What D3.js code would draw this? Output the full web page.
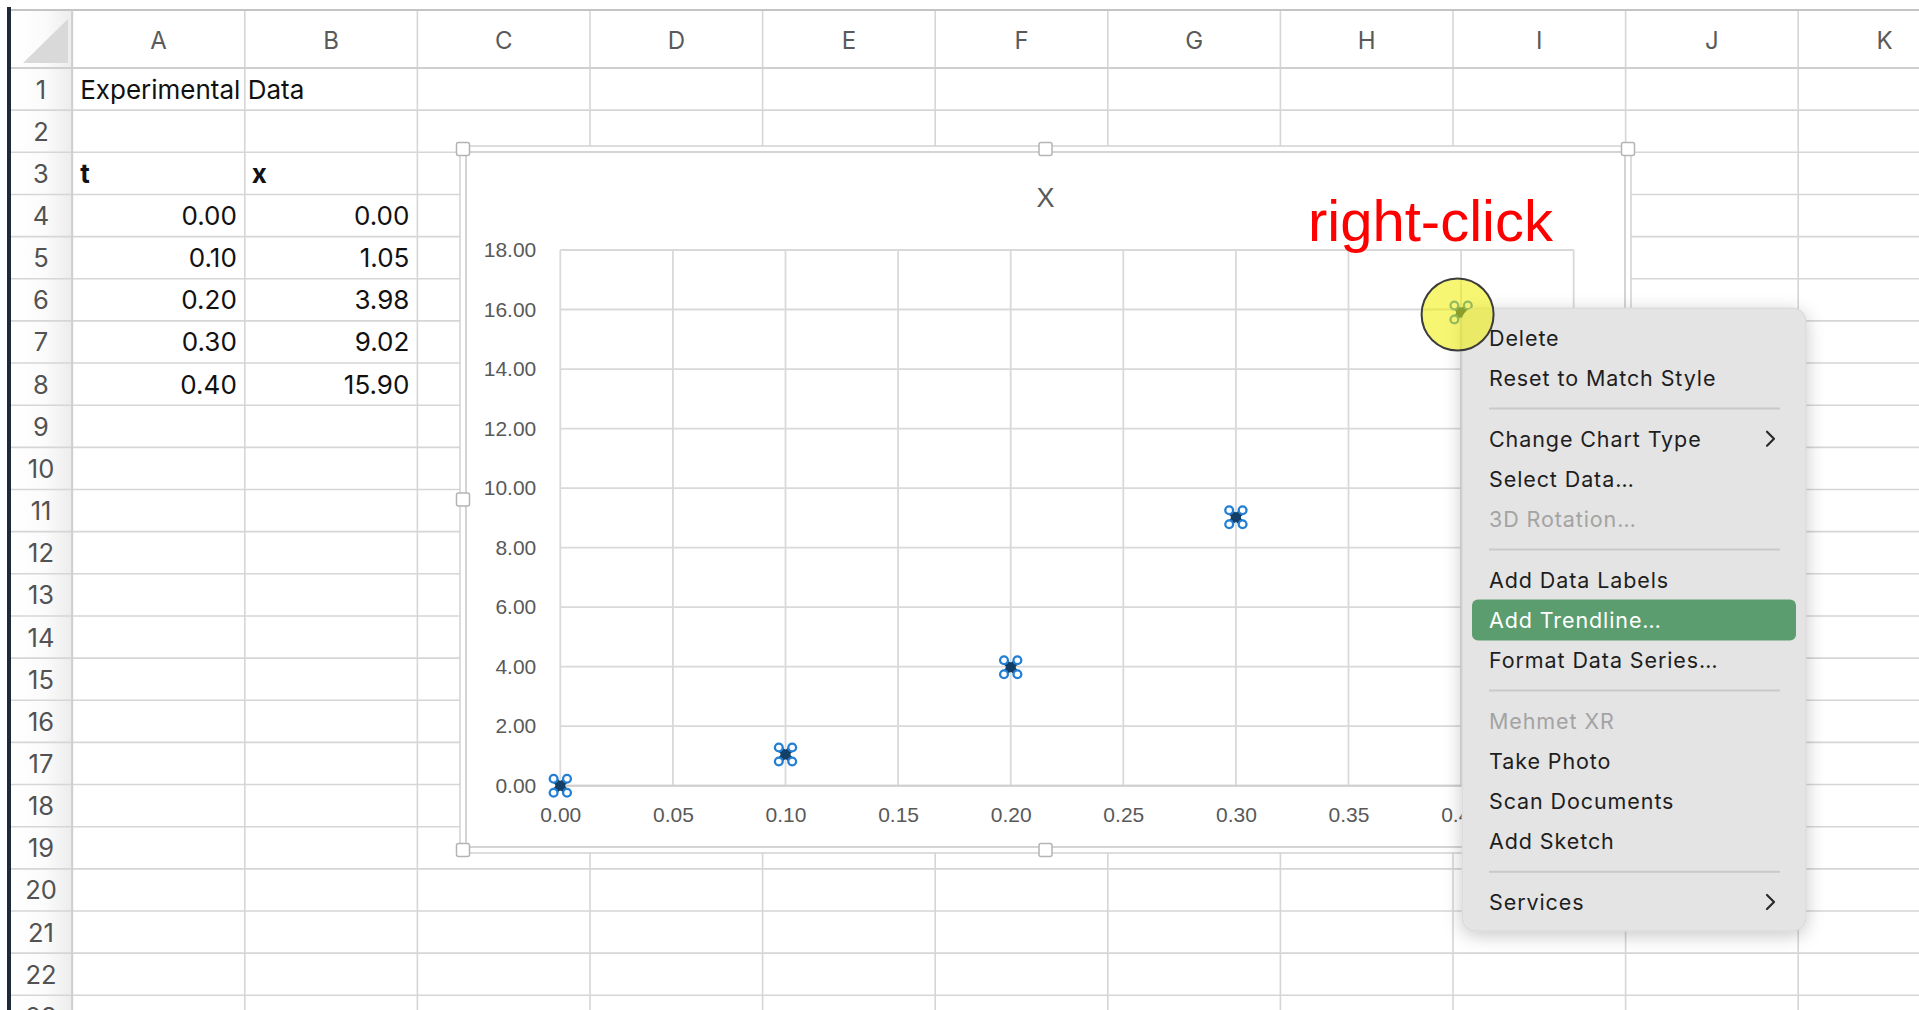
<!DOCTYPE html>
<html>
<head>
<meta charset="utf-8">
<script src="https://cdn.jsdelivr.net/npm/d3@7"></script>
<style>
  html, body { margin: 0; padding: 0; background: #ffffff; overflow: hidden; }
  svg { display: block; }
</style>
</head>
<body>
<svg id="view" width="1919" height="1010"></svg>
<script>
// ---- worksheet contents ----
const sheetTitle = "Experimental Data";
const tHeader = "t";
const xHeader = "x";
const tValues = [0.00, 0.10, 0.20, 0.30, 0.40];
const xValues = [0.00, 1.05, 3.98, 9.02, 15.90];
const columnLetters = ["A", "B", "C", "D", "E", "F", "G", "H", "I", "J", "K"];
const rowNumbers = [1, 2, 3, 4, 5, 6, 7, 8, 9, 10, 11, 12, 13, 14, 15, 16, 17, 18, 19, 20, 21, 22, 23];

// ---- chart ----
const chartTitle = "X";
const xTickValues = [0.00, 0.05, 0.10, 0.15, 0.20, 0.25, 0.30, 0.35, 0.40, 0.45];
const yTickValues = [0, 2, 4, 6, 8, 10, 12, 14, 16, 18];
const clickedIndex = 4;
const calloutText = "right-click";

// ---- context menu ----
const menuGroups = [
  ["Delete", "Reset to Match Style"],
  ["Change Chart Type", "Select Data…", "3D Rotation…"],
  ["Add Data Labels", "Add Trendline…", "Format Data Series…"],
  ["Mehmet XR", "Take Photo", "Scan Documents", "Add Sketch"],
  ["Services"]
];
const disabledItems = ["3D Rotation…", "Mehmet XR"];
const submenuItems = ["Change Chart Type", "Services"];
const activeItem = "Add Trendline…";

const svg = d3.select("#view");
const W = 1919, H = 1010;

const defs = svg.append("defs");
const rowGrad = defs.append("linearGradient").attr("id", "rowHeadGrad")
  .attr("x1", "0").attr("x2", "1").attr("y1", "0").attr("y2", "0");
rowGrad.append("stop").attr("offset", "0").attr("stop-color", "#ffffff");
rowGrad.append("stop").attr("offset", "0.55").attr("stop-color", "#fbfbfb");
rowGrad.append("stop").attr("offset", "1").attr("stop-color", "#ececec");

const shadow = defs.append("filter").attr("id", "menuShadow")
  .attr("x", "-20%").attr("y", "-20%").attr("width", "140%").attr("height", "140%");
shadow.append("feDropShadow").attr("dx", 0).attr("dy", 4)
  .attr("stdDeviation", 9).attr("flood-color", "#000").attr("flood-opacity", 0.22);

// ---- worksheet grid ----
const sheetLeft = 72.2, colW = 172.6;
const headTop = 10, headBottom = 68, rowH = 42.15, rowHeadLeft = 11;
const colEdge = i => sheetLeft + i * colW;
const rowTop = r => headBottom + (r - 1) * rowH;
const gridColor = "#d6d6d6";

const sheet = svg.append("g");
sheet.append("rect").attr("x", 0).attr("y", 0).attr("width", W).attr("height", H).attr("fill", "#ffffff");
// row header strip
sheet.append("rect").attr("x", rowHeadLeft).attr("y", headTop)
  .attr("width", sheetLeft - rowHeadLeft).attr("height", H - headTop).attr("fill", "url(#rowHeadGrad)");

// horizontal grid lines
sheet.selectAll("line.hrow").data(rowNumbers).join("line").attr("class", "hrow")
  .attr("x1", rowHeadLeft).attr("x2", W)
  .attr("y1", r => rowTop(r) + rowH).attr("y2", r => rowTop(r) + rowH)
  .attr("stroke", gridColor).attr("stroke-width", 1.6);
// vertical grid lines
sheet.selectAll("line.vcol").data(d3.range(columnLetters.length + 1)).join("line").attr("class", "vcol")
  .attr("x1", i => colEdge(i)).attr("x2", i => colEdge(i))
  .attr("y1", headTop).attr("y2", H)
  .attr("stroke", gridColor).attr("stroke-width", 1.6);
// header borders
sheet.append("line").attr("x1", rowHeadLeft).attr("x2", W).attr("y1", headTop).attr("y2", headTop)
  .attr("stroke", "#c4c4c4").attr("stroke-width", 2);
sheet.append("line").attr("x1", rowHeadLeft).attr("x2", W).attr("y1", headBottom).attr("y2", headBottom)
  .attr("stroke", "#cfcfcf").attr("stroke-width", 2);
sheet.append("line").attr("x1", sheetLeft).attr("x2", sheetLeft).attr("y1", headTop).attr("y2", H)
  .attr("stroke", "#cfcfcf").attr("stroke-width", 2);
// select-all corner
sheet.append("path").attr("d", "M23,63 L68,63 L68,19 Z").attr("fill", "#d9d9d9");
// window edge
sheet.append("rect").attr("x", 7).attr("y", 7).attr("width", 4).attr("height", H).attr("fill", "#1d2b38");

// header labels
const sheetFont = "Inter, 'Noto Sans', sans-serif";
sheet.selectAll("text.colhead").data(columnLetters).join("text").attr("class", "colhead")
  .attr("x", (d, i) => colEdge(i) + colW / 2).attr("y", 48.5)
  .attr("text-anchor", "middle").attr("font-family", sheetFont).attr("font-size", 24)
  .attr("fill", "#5a5a5a").text(d => d);
sheet.selectAll("text.rowhead").data(rowNumbers).join("text").attr("class", "rowhead")
  .attr("x", 41).attr("y", r => rowTop(r) + rowH / 2 + 9.5)
  .attr("text-anchor", "middle").attr("font-family", sheetFont).attr("font-size", 25.5)
  .attr("fill", "#525252").text(d => d);

// cell contents
const fmt2 = d3.format(".2f");
const cellBase = r => rowTop(r) + rowH / 2 + 9.5;
sheet.append("text").attr("x", colEdge(0) + 8).attr("y", cellBase(1))
  .attr("font-family", sheetFont).attr("font-size", 26).attr("fill", "#111").text(sheetTitle);
sheet.append("text").attr("x", colEdge(0) + 8).attr("y", cellBase(3))
  .attr("font-family", sheetFont).attr("font-size", 26).attr("font-weight", 700).attr("fill", "#111").text(tHeader);
sheet.append("text").attr("x", colEdge(1) + 7).attr("y", cellBase(3))
  .attr("font-family", sheetFont).attr("font-size", 26).attr("font-weight", 700).attr("fill", "#111").text(xHeader);
sheet.selectAll("text.tval").data(tValues).join("text").attr("class", "tval")
  .attr("x", colEdge(1) - 8).attr("y", (d, i) => cellBase(4 + i))
  .attr("text-anchor", "end").attr("font-family", sheetFont).attr("font-size", 26).attr("fill", "#111")
  .text(d => fmt2(d));
sheet.selectAll("text.xval").data(xValues).join("text").attr("class", "xval")
  .attr("x", colEdge(2) - 8).attr("y", (d, i) => cellBase(4 + i))
  .attr("text-anchor", "end").attr("font-family", sheetFont).attr("font-size", 26).attr("fill", "#111")
  .text(d => fmt2(d));

// ---- chart object ----
const frame = { x0: 463, y0: 149, x1: 1628, y1: 850 };
const chart = svg.append("g");
chart.append("rect").attr("x", frame.x0 - 3).attr("y", frame.y0 - 3)
  .attr("width", frame.x1 - frame.x0 + 6).attr("height", frame.y1 - frame.y0 + 6)
  .attr("fill", "#ffffff").attr("stroke", "#d2d2d2").attr("stroke-width", 1.5);
chart.append("rect").attr("x", frame.x0 + 3).attr("y", frame.y0 + 3)
  .attr("width", frame.x1 - frame.x0 - 6).attr("height", frame.y1 - frame.y0 - 6)
  .attr("fill", "#ffffff").attr("stroke", "#c6c6c6").attr("stroke-width", 1.5);

const x = d3.scaleLinear().domain([0, 0.45]).range([560.3, 1573.7]);
const y = d3.scaleLinear().domain([0, 18]).range([785.7, 250]);
const tickFont = "'Liberation Sans', Arial, sans-serif";

// gridlines
chart.append("g").selectAll("line").data(yTickValues).join("line")
  .attr("x1", x(0)).attr("x2", x(0.45)).attr("y1", d => y(d)).attr("y2", d => y(d))
  .attr("stroke", "#d9d9d9").attr("stroke-width", 1.8);
chart.append("g").selectAll("line").data(xTickValues).join("line")
  .attr("x1", d => x(d)).attr("x2", d => x(d)).attr("y1", y(0)).attr("y2", y(18))
  .attr("stroke", "#d9d9d9").attr("stroke-width", 1.8);

// axes (labels only; gridlines drawn above)
const xAxis = chart.append("g").attr("transform", `translate(0,${y(0)})`)
  .call(d3.axisBottom(x).tickValues(xTickValues).tickFormat(fmt2).tickSize(0).tickPadding(21));
const yAxis = chart.append("g").attr("transform", `translate(${x(0)},0)`)
  .call(d3.axisLeft(y).tickValues(yTickValues).tickFormat(fmt2).tickSize(0).tickPadding(24));
[xAxis, yAxis].forEach(g => {
  g.select(".domain").remove();
  g.attr("font-family", null).attr("font-size", null);
  g.selectAll("text").attr("font-family", tickFont).attr("font-size", 21).attr("fill", "#595959");
});
chart.append("line").attr("x1", x(0)).attr("x2", x(0.45)).attr("y1", y(0)).attr("y2", y(0))
  .attr("stroke", "#cfcfcf").attr("stroke-width", 2);

chart.append("text").attr("x", (frame.x0 + frame.x1) / 2).attr("y", 207)
  .attr("text-anchor", "middle").attr("font-family", tickFont).attr("font-size", 27)
  .attr("fill", "#595959").text(chartTitle);

// data markers: bold dark x with selection rings
const points = tValues.map((t, i) => ({ t, v: xValues[i] }));
const mk = chart.append("g").selectAll("g").data(points).join("g")
  .attr("transform", d => `translate(${x(d.t)},${y(d.v)})`);
mk.append("path").attr("d", "M-6.5,-6.5 L6.5,6.5 M-6.5,6.5 L6.5,-6.5")
  .attr("stroke", "#133f66").attr("stroke-width", 6).attr("stroke-linecap", "butt").attr("fill", "none");
mk.append("circle").attr("r", 5).attr("fill", "#133f66");
const rings = [[-6.7, -7], [6.7, -7], [-6.7, 7], [6.7, 7]];
mk.selectAll("circle.ring").data(rings).join("circle").attr("class", "ring")
  .attr("cx", d => d[0]).attr("cy", d => d[1]).attr("r", 3.9)
  .attr("fill", "#ffffff").attr("stroke", "#237fd4").attr("stroke-width", 2.3);

// resize handles
const midX = (frame.x0 + frame.x1) / 2, midY = (frame.y0 + frame.y1) / 2;
const handles = [[frame.x0, frame.y0], [midX, frame.y0], [frame.x1, frame.y0],
                 [frame.x0, midY], [frame.x1, midY],
                 [frame.x0, frame.y1], [midX, frame.y1], [frame.x1, frame.y1]];
chart.append("g").selectAll("rect").data(handles).join("rect")
  .attr("x", d => d[0] - 6.5).attr("y", d => d[1] - 6.5).attr("width", 13).attr("height", 13)
  .attr("rx", 2).attr("fill", "#ffffff").attr("stroke", "#b4b4b4").attr("stroke-width", 1.5);

// ---- context menu ----
const menu = { x: 1462, y: 308, w: 344, h: 623 };
const menuG = svg.append("g");
menuG.append("rect").attr("x", menu.x).attr("y", menu.y).attr("width", menu.w).attr("height", menu.h)
  .attr("rx", 13).attr("fill", "#e4e4e4").attr("stroke", "#d0d0d0").attr("stroke-width", 0.8)
  .attr("filter", "url(#menuShadow)");

const itemStep = 40.3, groupGap = 20.1;
const items = [], seps = [];
let cy = 338;
menuGroups.forEach((grp, gi) => {
  if (gi > 0) {
    seps.push(cy - itemStep + (itemStep + groupGap) / 2);
    cy += groupGap;
  }
  grp.forEach(label => { items.push({ label, cy }); cy += itemStep; });
});
const menuFont = "Inter, 'Noto Sans', sans-serif";
menuG.selectAll("line.sep").data(seps).join("line").attr("class", "sep")
  .attr("x1", 1489).attr("x2", 1780).attr("y1", d => d).attr("y2", d => d)
  .attr("stroke", "#c9c9c9").attr("stroke-width", 2);
menuG.selectAll("rect.hl").data(items.filter(d => d.label === activeItem)).join("rect").attr("class", "hl")
  .attr("x", 1472).attr("y", d => d.cy - 20.5).attr("width", 324).attr("height", 41)
  .attr("rx", 6).attr("fill", "#5b9d6f");
menuG.selectAll("text.item").data(items).join("text").attr("class", "item")
  .attr("x", 1489).attr("y", d => d.cy + 7.8)
  .attr("font-family", menuFont).attr("font-size", 21.5).attr("letter-spacing", 0.9)
  .attr("fill", d => d.label === activeItem ? "#ffffff" : disabledItems.includes(d.label) ? "#a3a3a3" : "#1e1e1e")
  .text(d => d.label);
menuG.selectAll("path.chev").data(items.filter(d => submenuItems.includes(d.label))).join("path").attr("class", "chev")
  .attr("d", d => `M1767,${d.cy - 7} L1774,${d.cy} L1767,${d.cy + 7}`)
  .attr("fill", "none").attr("stroke", "#2a2a2a").attr("stroke-width", 2.2)
  .attr("stroke-linecap", "round").attr("stroke-linejoin", "round");

// ---- click highlight and caption ----
const target = points[clickedIndex];
svg.append("circle").attr("cx", x(target.t) - 3.5).attr("cy", y(target.v) + 2)
  .attr("r", 36).attr("fill", "#eeee00").attr("fill-opacity", 0.55)
  .attr("stroke", "#3c3c3c").attr("stroke-width", 2);
svg.append("text").attr("x", 1308).attr("y", 241)
  .attr("font-family", tickFont).attr("font-size", 58).attr("fill", "#ff0000")
  .text(calloutText);
</script>
</body>
</html>
